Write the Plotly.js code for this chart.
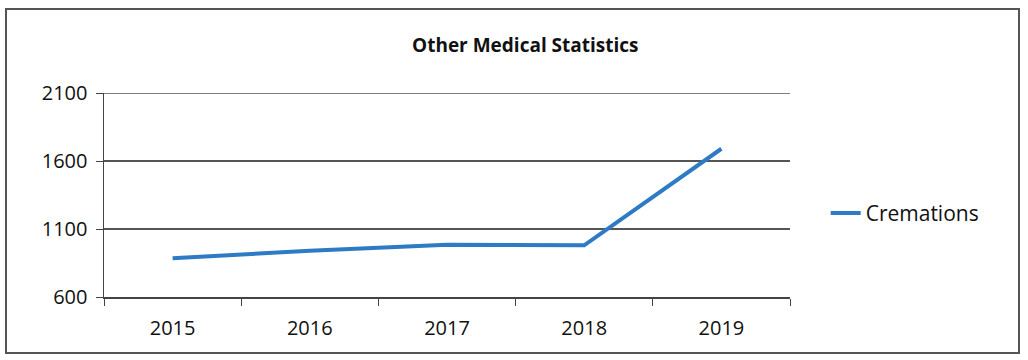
<!DOCTYPE html>
<html>
<head>
<meta charset="utf-8">
<script src="https://cdn.plot.ly/plotly-3.0.1.min.js"></script>
<style>
  html, body { margin: 0; padding: 0; background: #fff; }
  #frame { position: absolute; left: 5px; top: 8px; width: 1015px; height: 346px; border: 2px solid #555; box-sizing: border-box; }
  #chart { position: absolute; left: 0; top: 0; width: 1028px; height: 360px; }
</style>
</head>
<body>
<div id="frame"></div>
<div id="chart"></div>
<script>
const years = ["2015", "2016", "2017", "2018", "2019"];
const cremations = [885, 940, 985, 980, 1690];
const yTicks = [600, 1100, 1600, 2100];

const font = "Open Sans, Noto Sans, sans-serif";
const trace = {
  type: "scatter",
  mode: "lines",
  x: years,
  y: cremations,
  name: "Cremations",
  line: { color: "#2c7bc4", width: 4 }
};
const layout = {
  width: 1028, height: 360,
  margin: { l: 104, r: 238, t: 93, b: 63 },
  paper_bgcolor: "rgba(0,0,0,0)",
  plot_bgcolor: "rgba(0,0,0,0)",
  title: { text: "<b>Other Medical Statistics</b>", x: 0.511, xanchor: "center", y: 0.875, yanchor: "middle", font: { family: font, size: 19, color: "#111" } },
  xaxis: {
    type: "category",
    tickson: "boundaries",
    ticks: "outside", ticklen: 7, tickcolor: "#444",
    showline: true, linecolor: "#444", linewidth: 1.5,
    showgrid: false,
    ticklabelstandoff: 12,
    tickfont: { family: font, size: 20, color: "#111" },
    range: [-0.5, 4.5]
  },
  yaxis: {
    range: [600, 2100],
    tickvals: yTicks,
    ticks: "outside", ticklen: 7, tickcolor: "#444",
    showline: true, linecolor: "#444", linewidth: 1.5,
    showgrid: true, gridcolor: "#555", gridwidth: 1.3,
    zeroline: false,
    ticklabelstandoff: 4,
    tickfont: { family: font, size: 20, color: "#111" }
  },
  shapes: [
    { type: "line", xref: "paper", yref: "y", x0: 0, x1: 1, y0: 2100, y1: 2100, line: { color: "#555", width: 1.3 } }
  ],
  showlegend: true,
  legend: { x: 1.052, xanchor: "left", y: 0.41, yanchor: "middle", font: { family: font, size: 21, color: "#111" }, bgcolor: "rgba(0,0,0,0)" }
};
Plotly.newPlot("chart", [trace], layout, { displayModeBar: false, staticPlot: true });
</script>
</body>
</html>
